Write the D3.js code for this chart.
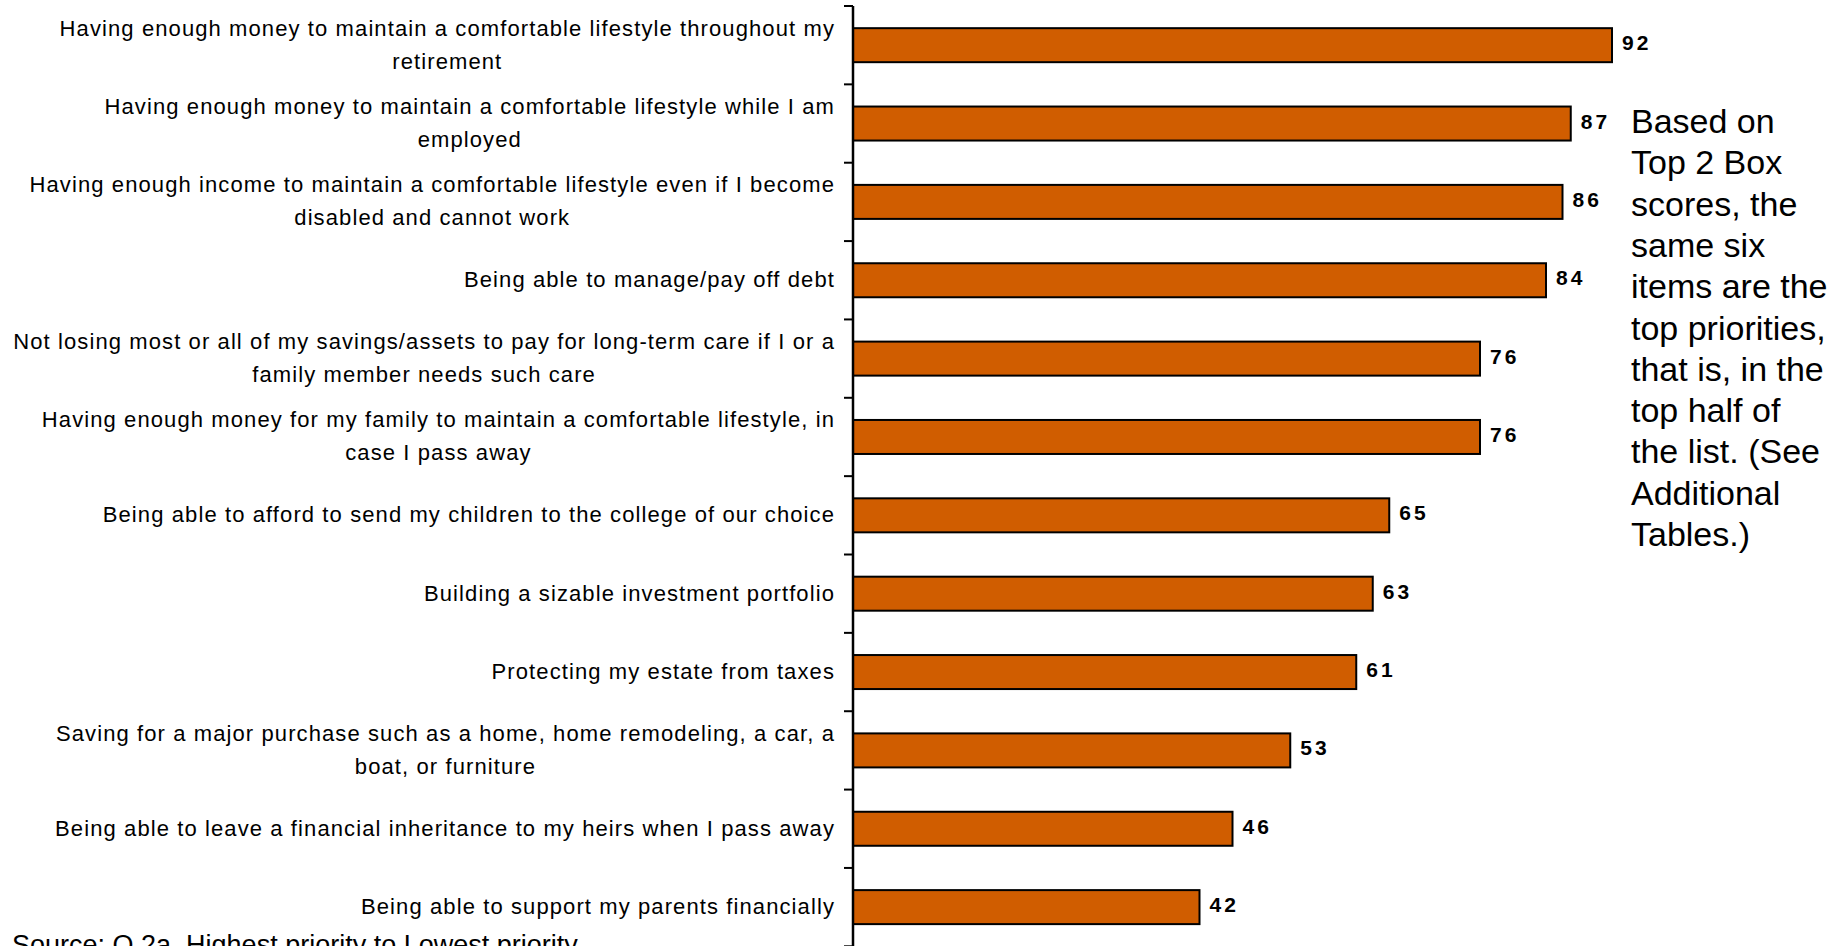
<!DOCTYPE html>
<html>
<head>
<meta charset="utf-8">
<script src="https://cdn.jsdelivr.net/npm/d3@7"></script>
<style>
  html, body { margin: 0; padding: 0; background: #fff; }
  svg { display: block; }
  text { font-family: "Liberation Sans", Arial, sans-serif; }
</style>
</head>
<body>
<svg id="chart" width="1847" height="946"></svg>
<script>
// Financial priorities, Top 2 Box scores (%)
const categories = [
  "Having enough money to maintain a comfortable lifestyle throughout my\nretirement",
  "Having enough money to maintain a comfortable lifestyle while I am\nemployed",
  "Having enough income to maintain a comfortable lifestyle even if I become\ndisabled and cannot work",
  "Being able to manage/pay off debt",
  "Not losing most or all of my savings/assets to pay for long-term care if I or a\nfamily member needs such care",
  "Having enough money for my family to maintain a comfortable lifestyle, in\ncase I pass away",
  "Being able to afford to send my children to the college of our choice",
  "Building a sizable investment portfolio",
  "Protecting my estate from taxes",
  "Saving for a major purchase such as a home, home remodeling, a car, a\nboat, or furniture",
  "Being able to leave a financial inheritance to my heirs when I pass away",
  "Being able to support my parents financially"
];
const values = [92, 87, 86, 84, 76, 76, 65, 63, 61, 53, 46, 42];

const noteLines = [
  "Based on", "Top 2 Box", "scores, the", "same six", "items are the",
  "top priorities,", "that is, in the", "top half of", "the list. (See",
  "Additional", "Tables.)"
];
const sourceText = "Source: Q 2a. Highest priority to Lowest priority";

const svg = d3.select("#chart");
const axisX = 853;
const barColor = "#D05D00";

const x = d3.scaleLinear().domain([0, 100]).range([axisX, axisX + 825]);
const y = d3.scaleBand()
  .domain(categories)
  .range([6, 946.3])
  .paddingInner(0.566)
  .paddingOuter(0.283);

// Bars
svg.append("g").selectAll("rect")
  .data(categories)
  .join("rect")
  .attr("x", x(0))
  .attr("y", d => y(d))
  .attr("width", (d, i) => x(values[i]) - x(0))
  .attr("height", y.bandwidth())
  .attr("fill", barColor)
  .attr("stroke", "#000")
  .attr("stroke-width", 2);

// Value labels
svg.append("g").selectAll("text")
  .data(categories)
  .join("text")
  .attr("x", (d, i) => x(values[i]) + 10)
  .attr("y", d => y(d) + y.bandwidth() / 2 + 5)
  .attr("font-size", 21)
  .attr("font-weight", "bold")
  .attr("letter-spacing", 3)
  .attr("fill", "#000")
  .text((d, i) => values[i]);

// Category axis with ticks at the band boundaries
const step = y.step();
const boundaries = d3.range(categories.length + 1).map(i => y.range()[0] + i * step);
const axisG = svg.append("g");
axisG.append("line")
  .attr("x1", axisX).attr("x2", axisX)
  .attr("y1", y.range()[0]).attr("y2", 946)
  .attr("stroke", "#000").attr("stroke-width", 2.5);
axisG.selectAll("line.tick")
  .data(boundaries)
  .join("line")
  .attr("class", "tick")
  .attr("x1", axisX - 9).attr("x2", axisX)
  .attr("y1", d => d).attr("y2", d => d)
  .attr("stroke", "#000").attr("stroke-width", 2);

// Category labels: lines centred on each other, block right-aligned to the axis
const labelRight = 835;
const lineGap = 33;
const labelG = svg.append("g")
  .attr("font-size", 22)
  .attr("letter-spacing", 1.1)
  .attr("fill", "#000");
categories.forEach(cat => {
  const lines = cat.split("\n");
  const cy = y(cat) + y.bandwidth() / 2;
  const t = labelG.append("text").attr("text-anchor", "middle");
  const spans = lines.map((ln, j) => t.append("tspan")
    .attr("y", cy + (j - (lines.length - 1) / 2) * lineGap + 7)
    .text(ln));
  const widths = spans.map(s => s.node().getComputedTextLength());
  const maxW = d3.max(widths);
  spans.forEach(s => s.attr("x", labelRight - maxW / 2));
});

// Side note
svg.append("text")
  .attr("font-size", 34)
  .attr("fill", "#000")
  .selectAll("tspan")
  .data(noteLines)
  .join("tspan")
  .attr("x", 1631)
  .attr("y", (d, i) => 133 + i * 41.3)
  .text(d => d);

// Source line, partly below the bottom edge
svg.append("text")
  .attr("x", 12)
  .attr("y", 954)
  .attr("font-size", 27)
  .attr("fill", "#000")
  .text(sourceText);
</script>
</body>
</html>
